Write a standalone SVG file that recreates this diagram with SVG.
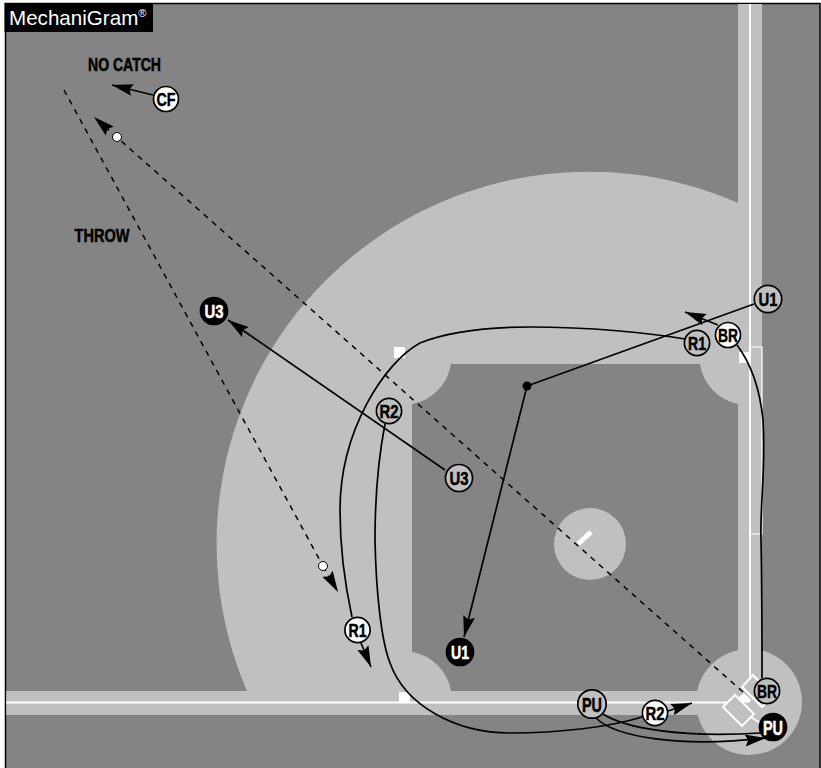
<svg xmlns="http://www.w3.org/2000/svg" width="821" height="768" viewBox="0 0 821 768">
<style>
.lt{fill:#c0c0c0}
.wl{stroke:#fff;stroke-width:2;fill:none}
.c{stroke:#000;stroke-width:1.7;fill:none}
.d{stroke:#000;stroke-width:1.5;fill:none;stroke-dasharray:5.500 5.500}
.a{marker-end:url(#ah)}
.n{stroke:#000;stroke-width:1.7}
.w{fill:#fff}.g{fill:#c0c0c0}.k{fill:#000}
.t{font-family:"Liberation Sans",Arial,sans-serif;font-weight:bold;font-size:19px;text-anchor:middle;stroke-width:.5}
.tk{fill:#000;stroke:#000}.tw{fill:#fff;stroke:#fff}
</style>
<defs>
<marker id="ah" markerUnits="userSpaceOnUse" markerWidth="24" markerHeight="14" refX="21" refY="7" orient="auto"><path d="M0 1L21 7L0 13L3 7Z" fill="#000"/></marker>
</defs>
<rect width="821" height="768" fill="#fff"/>
<g id="field">
<rect x="5.500" y="3.500" width="814.500" height="764.500" fill="#848484"/>
<path d="M5.500 768V3.500H820V768" fill="none" stroke="#000" stroke-width="1.5"/>
<path class="lt" d="M738 203A372 372 0 0 0 247 691L738 691Z"/>
<rect class="lt" x="738" y="4" width="24" height="711"/>
<rect class="lt" x="6.300" y="691" width="750" height="24"/>
<path fill="#848484" d="M451 364H700A48 48 0 0 0 738 404V691H451A48 48 0 0 0 412 652V404A48 48 0 0 0 451 364Z"/>
<rect class="lt" x="738" y="400" width="24" height="300"/>
<circle class="lt" cx="749" cy="702" r="53"/>
<circle class="lt" cx="590" cy="544" r="36"/>
<path d="M578 544L591 532" stroke="#fff" stroke-width="5"/>
<path class="wl" d="M6.300 702.500H730M750 4V690"/>
<path d="M750 347H762V534H750" fill="none" stroke="#fff" stroke-width="1.2"/>
<rect x="394" y="347" width="11" height="11" fill="#fff"/>
<rect x="739" y="352" width="11" height="11" fill="#fff"/>
<rect x="399" y="692" width="11" height="11" fill="#fff"/>
<path class="wl" style="fill:#c0c0c0" d="M753 675L742 687L762 707L773 696ZM735 695L723 707L742 726L754 714Z"/>
<path class="wl" d="M751 717L760 723"/>
<path d="M739 697L744 693L751 700L749 703L742 702Z" fill="#fff"/>
</g>
<g id="connectors">
<path class="d" d="M64 90L323 566"/>
<path class="d a" d="M323 566L338 592"/>
<path class="d a" d="M743 692L94 117"/>
<path class="c" d="M754 304L527 386"/>
<path class="c a" d="M527 386L464 637"/>
<circle cx="527" cy="386" r="4.500" fill="#000"/>
<path class="c a" d="M445 470L228 320"/>
<path class="c a" d="M153 95L112 85"/>
<path class="c a" d="M718 325L685 312"/>
<path class="c" d="M685 339C650 333 590 327 530 327C490 327 450 331 420 343C385 362 340 430 340 510C340 550 345 585 352 617"/>
<path class="c a" d="M361 643L371 667"/>
<path class="c" d="M385 424C378 460 375 500 375 540C376 590 381 640 390 663C405 705 455 733 510 733C560 733 610 727 642 717"/>
<path class="c a" d="M668 711L692 703"/>
<path class="c" d="M737 345C752 365 760 390 763 420C766 470 760 500 761 540C762 590 762 640 762 678"/>
<path class="c" d="M603 714C625 728 680 738 760 733"/>
<path class="c a" d="M596 718C615 737 680 748 766 738"/>
<circle cx="117" cy="137" r="4.500" fill="#fff" stroke="#000" stroke-width="1"/>
<circle cx="323" cy="566" r="4.500" fill="#fff" stroke="#000" stroke-width="1"/>
</g>
<g id="label"><rect x="4.500" y="3" width="148.500" height="29" fill="#000"/>
<text x="9" y="25" font-family="Liberation Sans,Arial,sans-serif" font-size="20.600" fill="#fff">MechaniGram<tspan font-size="11" dy="-8">®</tspan></text></g>
<g id="t1"><text class="t tk" x="124.500" y="71" textLength="73" lengthAdjust="spacingAndGlyphs">NO CATCH</text></g>
<g id="t2"><text class="t tk" x="102" y="242" textLength="55" lengthAdjust="spacingAndGlyphs">THROW</text></g>
<g id="cf"><circle class="n w" cx="166" cy="99" r="12.500"/><text class="t tk" x="166" y="105.500" textLength="19" lengthAdjust="spacingAndGlyphs">CF</text></g>
<g id="u3b"><circle class="n k" cx="214" cy="311" r="13.500"/><text class="t tw" x="214" y="318" textLength="19" lengthAdjust="spacingAndGlyphs">U3</text></g>
<g id="u3g"><circle class="n g" cx="459" cy="478" r="13.500"/><text class="t tk" x="459" y="485" textLength="19" lengthAdjust="spacingAndGlyphs">U3</text></g>
<g id="r2g"><circle class="n g" cx="389" cy="411" r="12.600"/><text class="t tk" x="389" y="417.500" textLength="19" lengthAdjust="spacingAndGlyphs">R2</text></g>
<g id="r1g"><circle class="n g" cx="697" cy="343" r="12.600"/><text class="t tk" x="697" y="349.500" textLength="18" lengthAdjust="spacingAndGlyphs">R1</text></g>
<g id="brw"><circle class="n w" cx="728" cy="335" r="12.500"/><text class="t tk" x="728" y="341.500" textLength="20" lengthAdjust="spacingAndGlyphs">BR</text></g>
<g id="u1g"><circle class="n g" cx="768" cy="299" r="13.700"/><text class="t tk" x="768" y="306" textLength="19" lengthAdjust="spacingAndGlyphs">U1</text></g>
<g id="r1w"><circle class="n w" cx="357.500" cy="630" r="12.600"/><text class="t tk" x="357.500" y="636.500" textLength="18" lengthAdjust="spacingAndGlyphs">R1</text></g>
<g id="u1b"><circle class="n k" cx="460" cy="652" r="13.500"/><text class="t tw" x="460" y="659" textLength="18" lengthAdjust="spacingAndGlyphs">U1</text></g>
<g id="pug"><circle class="n g" cx="592" cy="704" r="14.200"/><text class="t tk" x="592" y="711.500" textLength="20" lengthAdjust="spacingAndGlyphs" style="font-size:20px">PU</text></g>
<g id="r2w"><circle class="n w" cx="655" cy="713" r="12.600"/><text class="t tk" x="655" y="719.500" textLength="19" lengthAdjust="spacingAndGlyphs">R2</text></g>
<g id="brg"><circle class="n g" cx="767" cy="691" r="12.600"/><text class="t tk" x="767" y="697.500" textLength="20" lengthAdjust="spacingAndGlyphs">BR</text></g>
<g id="pub"><circle class="n k" cx="773" cy="727" r="13.500"/><text class="t tw" x="773" y="734.500" textLength="20" lengthAdjust="spacingAndGlyphs" style="font-size:20px">PU</text></g>
</svg>
